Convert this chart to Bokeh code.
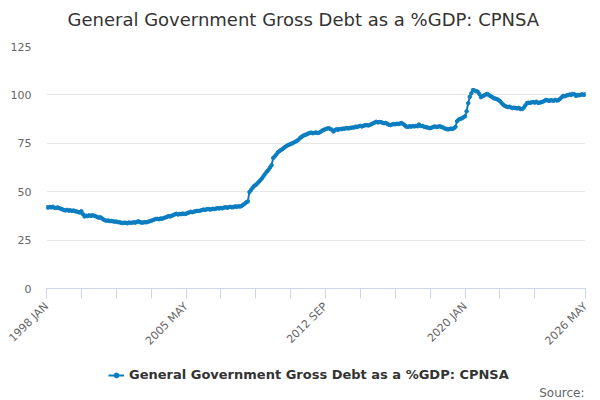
import math
from bokeh.plotting import figure
from bokeh.layouts import column
from bokeh.models import (Range1d, FixedTicker, Legend, LegendItem, ColumnDataSource, Label)
from bokeh.embed import file_html
from bokeh.resources import INLINE

# ---------------- data (monthly, 1998 JAN .. 2026 MAY) ----------------
start_year = 1998
month_names = ["JAN", "FEB", "MAR", "APR", "MAY", "JUN", "JUL", "AUG", "SEP", "OCT", "NOV", "DEC"]

debt_1998 = [42.0, 41.8, 42.1, 41.9, 42.2, 41.7, 41.6, 41.9, 41.5, 41.2, 40.9, 40.5]
debt_1999 = [40.3, 40.6, 40.2, 40.4, 40.1, 40.3, 39.9, 39.8, 39.5, 39.2, 39.9, 38.4]
debt_2000 = [37.2, 37.6, 37.4, 37.8, 37.5, 37.9, 37.6, 37.3, 36.9, 36.6, 36.8, 36.2]
debt_2001 = [35.6, 35.2, 35.0, 35.1, 34.8, 34.9, 34.7, 34.5, 34.6, 34.3, 34.2, 34.0]
debt_2002 = [33.8, 34.0, 33.9, 33.7, 34.1, 33.9, 34.0, 34.2, 34.0, 34.4, 34.7, 34.3]
debt_2003 = [34.0, 34.1, 34.3, 34.2, 34.5, 34.7, 35.0, 35.3, 35.6, 35.9, 36.0, 35.8]
debt_2004 = [36.2, 36.0, 36.4, 36.7, 37.0, 37.4, 37.2, 37.6, 37.9, 38.3, 38.6, 38.2]
debt_2005 = [38.5, 38.4, 38.7, 38.5, 38.6, 39.0, 39.3, 39.6, 39.4, 39.7, 39.9, 40.1]
debt_2006 = [40.0, 40.2, 40.5, 40.8, 40.6, 40.9, 41.1, 40.8, 40.9, 41.2, 41.0, 41.3]
debt_2007 = [41.5, 41.3, 41.6, 41.4, 41.8, 42.0, 41.7, 42.0, 42.2, 41.9, 42.1, 42.4]
debt_2008 = [42.2, 42.5, 42.3, 42.6, 43.2, 43.8, 44.5, 45.0, 49.8, 50.9, 52.0, 53.0]
debt_2009 = [53.5, 54.3, 55.2, 56.0, 57.0, 58.2, 59.3, 60.4, 61.3, 62.5, 63.7, 67.4]
debt_2010 = [68.3, 69.2, 70.4, 71.0, 71.6, 72.1, 72.8, 73.4, 73.9, 74.3, 74.6, 75.0]
debt_2011 = [75.4, 75.8, 76.3, 76.9, 77.8, 78.4, 78.9, 79.3, 79.6, 80.0, 80.3, 80.5]
debt_2012 = [80.2, 80.4, 80.6, 80.3, 80.5, 81.0, 81.6, 82.0, 82.3, 82.6, 82.8, 82.4]
debt_2013 = [82.0, 81.1, 81.8, 82.3, 82.0, 82.4, 82.3, 82.6, 82.5, 82.9, 82.7, 82.8]
debt_2014 = [83.0, 83.2, 83.1, 83.6, 83.4, 83.8, 84.0, 83.7, 84.1, 84.3, 84.4, 84.2]
debt_2015 = [84.5, 84.9, 85.3, 85.7, 86.1, 85.8, 86.0, 85.9, 85.6, 85.4, 85.5, 85.0]
debt_2016 = [84.6, 84.4, 84.7, 85.0, 84.8, 85.1, 84.9, 85.2, 85.5, 84.9, 84.3, 83.6]
debt_2017 = [83.5, 83.8, 83.6, 83.9, 83.7, 84.0, 83.8, 84.7, 83.9, 84.0, 83.6, 83.4]
debt_2018 = [83.2, 83.0, 82.8, 83.1, 83.5, 83.7, 83.4, 83.6, 83.8, 83.5, 83.2, 82.8]
debt_2019 = [82.4, 82.2, 82.3, 82.6, 82.4, 82.8, 83.5, 86.4, 87.3, 87.6, 87.9, 88.4]
debt_2020 = [89.0, 91.5, 95.7, 99.0, 100.8, 102.5, 102.3, 101.9, 101.7, 100.5, 98.8, 99.3]
debt_2021 = [99.7, 100.2, 100.5, 100.0, 99.4, 99.0, 98.3, 98.1, 97.8, 97.5, 96.8, 95.9]
debt_2022 = [95.0, 94.4, 94.0, 93.7, 93.9, 93.5, 93.2, 93.4, 93.2, 93.0, 93.3, 92.7]
debt_2023 = [92.7, 93.4, 94.5, 95.7, 96.0, 95.8, 96.2, 96.3, 96.0, 96.5, 95.9, 96.0]
debt_2024 = [96.2, 96.5, 96.8, 97.4, 97.2, 96.9, 97.3, 97.1, 97.0, 97.4, 97.1, 97.3]
debt_2025 = [98.0, 98.8, 99.5, 99.3, 99.7, 99.9, 100.2, 100.0, 100.5, 100.3, 99.5, 100.0]
debt_2026 = [99.8, 100.1, 100.3, 100.0, 100.4]

tick_months = [0, 22, 44, 66, 88, 110, 132, 154, 176, 198, 220, 242, 264, 286, 308, 340]
label_months = [0, 88, 176, 264, 340]
y_ticks = [0, 25, 50, 75, 100, 125]

series_name = "General Government Gross Debt as a %GDP: CPNSA"
title_text = "General Government Gross Debt as a %GDP: CPNSA"
source_text = "Source:"

# ---------------- build ----------------
values = (debt_1998 + debt_1999 + debt_2000 + debt_2001 + debt_2002 + debt_2003 + debt_2004 +
          debt_2005 + debt_2006 + debt_2007 + debt_2008 + debt_2009 + debt_2010 + debt_2011 +
          debt_2012 + debt_2013 + debt_2014 + debt_2015 + debt_2016 + debt_2017 + debt_2018 +
          debt_2019 + debt_2020 + debt_2021 + debt_2022 + debt_2023 + debt_2024 + debt_2025 +
          debt_2026)
idx = list(range(len(values)))
periods = ["%d %s" % (start_year + i // 12, month_names[i % 12]) for i in idx]
src = ColumnDataSource(dict(x=idx, y=values, period=periods))

FONT = "DejaVu Sans"
COLOR = "#0b7dc1"
BL, BR = 46, 15


def blank_figure(h):
    fig = figure(width=600, height=h, output_backend="svg", toolbar_location=None,
                 x_range=Range1d(0, 1), y_range=Range1d(0, 1),
                 x_axis_location=None, y_axis_location=None,
                 min_border_left=BL, min_border_right=BR, min_border_top=0, min_border_bottom=0)
    fig.outline_line_color = None
    fig.grid.grid_line_color = None
    fig.background_fill_color = "white"
    fig.border_fill_color = "white"
    return fig


# ---------------- header: title ----------------
h = blank_figure(30)
h.add_layout(Label(x=21, y=11, x_units="screen", y_units="screen", text=title_text,
                   text_font=FONT, text_font_size="18px", text_color="#333333",
                   text_align="left", text_baseline="middle"))

# ---------------- main chart ----------------
p = figure(width=600, height=325, output_backend="svg", toolbar_location=None,
           x_range=Range1d(0, len(values) - 1), y_range=Range1d(0, 125),
           min_border_left=BL, min_border_right=BR, min_border_top=16, min_border_bottom=62)
p.outline_line_color = None
p.background_fill_color = "white"
p.border_fill_color = "white"

p.line("x", "y", source=src, line_color=COLOR, line_width=2)
p.scatter("x", "y", source=src, size=3.5, fill_color=COLOR, line_color=COLOR)

p.yaxis.ticker = FixedTicker(ticks=y_ticks)
p.yaxis.axis_line_color = None
p.yaxis.major_tick_line_color = None
p.yaxis.minor_tick_line_color = None
p.yaxis.major_tick_out = 0
p.yaxis.major_tick_in = 0
p.yaxis.major_label_standoff = 15
p.yaxis.major_label_text_font = FONT
p.yaxis.major_label_text_font_size = "11px"
p.yaxis.major_label_text_color = "#666666"

overrides = {}
for t in tick_months:
    overrides[t] = ""
for t in label_months:
    overrides[t] = periods[t]
p.xaxis.ticker = FixedTicker(ticks=tick_months)
p.xaxis.major_label_overrides = overrides
p.xaxis.axis_line_color = "#ccd6eb"
p.xaxis.major_tick_line_color = "#ccd6eb"
p.xaxis.minor_tick_line_color = None
p.xaxis.major_tick_out = 10
p.xaxis.major_tick_in = 0
p.xaxis.major_label_standoff = 6
p.xaxis.major_label_orientation = math.pi / 4
p.xaxis.major_label_text_font = FONT
p.xaxis.major_label_text_font_size = "11px"
p.xaxis.major_label_text_color = "#666666"

p.xgrid.grid_line_color = None
p.ygrid.grid_line_color = "#e6e6e6"
p.ygrid.ticker = FixedTicker(ticks=y_ticks)

# ---------------- footer: legend + source ----------------
f = blank_figure(45)
# same series, drawn off-view in the footer only to provide the legend swatch
k_line = f.line("x", "y", source=src, line_color=COLOR, line_width=2)
k_pts = f.scatter("x", "y", source=src, size=3.5, fill_color=COLOR, line_color=COLOR)

legend = Legend(items=[LegendItem(label=series_name, renderers=[k_line, k_pts])],
                location=(62, 18), orientation="horizontal",
                border_line_color=None, background_fill_alpha=0,
                label_text_font=FONT, label_text_font_size="13px", label_text_font_style="bold",
                label_text_color="#333333", glyph_width=16, glyph_height=12, label_height=14,
                label_standoff=5, padding=0, margin=0)
f.add_layout(legend, "center")

f.add_layout(Label(x=538, y=8, x_units="screen", y_units="screen", text=source_text,
                   text_font=FONT, text_font_size="12px", text_color="#666666",
                   text_align="right", text_baseline="middle"))

open("out.html", "w").write(file_html(column(h, p, f, spacing=0), INLINE))
